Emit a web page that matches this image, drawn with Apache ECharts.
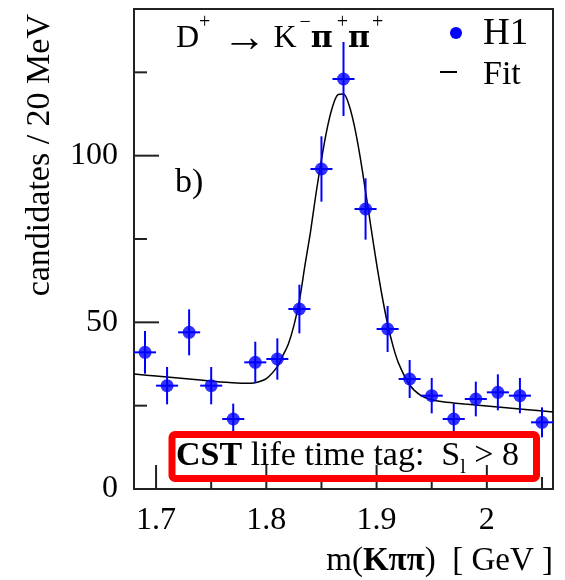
<!DOCTYPE html>
<html>

<head>
    <meta http-equiv="Content-Type" content="text/html; charset=utf-8" />
    <title>D+ mass peak</title>
    <style type="text/css">
    body,
    html {
        width: 100%;
        height: 100%;
        margin: 0;
        overflow: hidden;
        background-color: #fff;
    }

    #container {
        width: 565px;
        height: 580px;
    }
    </style>
</head>

<body>
    <div id="container"></div>
</body>
<script src="https://cdn.jsdelivr.net/npm/echarts@6/dist/echarts.min.js"></script>
<script>
// bin centres (GeV), 20 MeV bins
var massBins = [1.69, 1.71, 1.73, 1.75, 1.77, 1.79, 1.81, 1.83, 1.85, 1.87,
    1.89, 1.91, 1.93, 1.95, 1.97, 1.99, 2.01, 2.03, 2.05];
// H1 candidates per bin
var h1Counts = [41, 31, 47, 31, 21, 38, 39, 54, 96, 123,
    84, 48, 33, 28, 21, 27, 29, 28, 20];
// statistical errors
var h1Errors = [6.4, 5.6, 6.9, 5.6, 4.6, 6.2, 6.2, 7.3, 9.8, 11.1,
    9.2, 6.9, 5.7, 5.3, 4.6, 5.2, 5.4, 5.3, 4.5];

// fit curve
var fitMass = [1.68, 1.70, 1.72, 1.74, 1.76, 1.78, 1.79, 1.80, 1.81, 1.815,
    1.82, 1.825, 1.83, 1.835, 1.84, 1.845, 1.85, 1.855, 1.86, 1.865,
    1.87, 1.875, 1.88, 1.885, 1.89, 1.895, 1.90, 1.905, 1.91, 1.915,
    1.92, 1.93, 1.94, 1.95, 1.96, 1.98, 2.00, 2.02, 2.04, 2.06];
var fitValues = [34.5, 33.9, 33.3, 32.7, 32.1, 31.7, 31.9, 33.1, 36.7, 40.0,
    43.5, 49.0, 56.5, 67.0, 77.0, 88.5, 98.8, 107.9, 114.6, 118.3,
    118.5, 115.2, 108.7, 99.8, 89.3, 78.3, 67.6, 57.9, 49.5, 42.8,
    37.7, 31.2, 28.1, 26.8, 26.2, 25.5, 24.9, 24.3, 23.7, 23.1];

// axes
var xRange = [1.68, 2.06];
var yRange = [0, 144];
var xTickLabels = [1.7, 1.8, 1.9, 2];
var yTickLabels = [0, 50, 100];
var xMajorTicks = [1.7, 1.8, 1.9, 2.0];
var xMinorTicks = [1.75, 1.85, 1.95, 2.05];
var yMajorTicks = [50, 100];
var yMinorTicks = [25, 75, 125];

var halfBin = 0.01;
var serif = "'Liberation Serif', 'DejaVu Serif', serif";
var blue = '#0000ff';

var chartDom = document.getElementById('container');
var myChart = echarts.init(chartDom);

function pickLabel(list) {
    return function(v) {
        for (var i = 0; i < list.length; i++) {
            if (Math.abs(list[i] - v) < 1e-6) return String(list[i]);
        }
        return '';
    };
}

var xTickData = xMajorTicks.map(function(v) { return [v, 24]; })
    .concat(xMinorTicks.map(function(v) { return [v, 12]; }));
var yTickData = yMajorTicks.map(function(v) { return [25, v]; })
    .concat(yMinorTicks.map(function(v) { return [13, v]; }));

var option = {
    animation: false,
    grid: {
        left: 134,
        right: 12,
        top: 9,
        bottom: 91,
        show: true,
        borderColor: '#222',
        borderWidth: 2,
        backgroundColor: 'transparent'
    },
    xAxis: {
        type: 'value',
        min: xRange[0],
        max: xRange[1],
        splitNumber: 4,
        axisLine: { show: false },
        axisTick: { show: false },
        splitLine: { show: false },
        axisLabel: {
            formatter: pickLabel(xTickLabels),
            showMinLabel: false,
            showMaxLabel: false,
            margin: 16,
            fontSize: 32,
            lineHeight: 32,
            fontFamily: serif,
            color: '#000'
        }
    },
    yAxis: {
        type: 'value',
        min: yRange[0],
        max: yRange[1],
        interval: 50,
        axisLine: { show: false },
        axisTick: { show: false },
        splitLine: { show: false },
        axisLabel: {
            formatter: pickLabel(yTickLabels),
            showMaxLabel: false,
            margin: 16,
            fontSize: 32,
            fontFamily: serif,
            color: '#000'
        }
    },
    series: [
        {
            // ticks on the bottom axis, drawn inwards
            type: 'custom',
            silent: true,
            z: 5,
            data: xTickData,
            encode: { x: 0 },
            renderItem: function(params, api) {
                var p = api.coord([api.value(0), yRange[0]]);
                var len = api.value(1);
                return {
                    type: 'line',
                    shape: { x1: p[0], y1: p[1], x2: p[0], y2: p[1] - len },
                    style: { stroke: '#222', lineWidth: 2 }
                };
            }
        },
        {
            // ticks on the left axis
            type: 'custom',
            silent: true,
            z: 5,
            data: yTickData,
            encode: { y: 1 },
            renderItem: function(params, api) {
                var p = api.coord([xRange[0], api.value(1)]);
                var len = api.value(0);
                return {
                    type: 'line',
                    shape: { x1: p[0], y1: p[1], x2: p[0] + len, y2: p[1] },
                    style: { stroke: '#222', lineWidth: 2 }
                };
            }
        },
        {
            name: 'Fit',
            type: 'line',
            z: 2,
            data: fitMass.map(function(m, i) { return [m, fitValues[i]]; }),
            smooth: 0.3,
            symbol: 'none',
            lineStyle: { color: '#000', width: 1.5 }
        },
        {
            // error bars
            type: 'custom',
            z: 3,
            data: massBins.map(function(m, i) { return [m, h1Counts[i], h1Errors[i]]; }),
            encode: { x: 0, y: 1 },
            renderItem: function(params, api) {
                var x = api.value(0);
                var y = api.value(1);
                var e = api.value(2);
                var top = api.coord([x, y + e]);
                var bot = api.coord([x, y - e]);
                var lft = api.coord([x - halfBin, y]);
                var rgt = api.coord([x + halfBin, y]);
                var st = { stroke: blue, lineWidth: 2 };
                return {
                    type: 'group',
                    children: [
                        { type: 'line', shape: { x1: top[0], y1: top[1], x2: bot[0], y2: bot[1] }, style: st },
                        { type: 'line', shape: { x1: lft[0], y1: lft[1], x2: rgt[0], y2: rgt[1] }, style: st }
                    ]
                };
            }
        },
        {
            name: 'H1',
            type: 'scatter',
            z: 4,
            data: massBins.map(function(m, i) { return [m, h1Counts[i]]; }),
            symbol: 'circle',
            symbolSize: 13,
            itemStyle: { color: blue }
        }
    ],
    graphic: [
        {
            // decay channel
            type: 'text',
            x: 176,
            y: 13,
            z: 10,
            style: {
                text: '{n|D}{s|+}{a|\u2192}{n|K}{m|\u2212}{p|\u03c0}{t|+}{p|\u03c0}{u|+}',
                verticalAlign: 'top',
                rich: {
                    n: { fontSize: 32, lineHeight: 52, fontFamily: serif, color: '#000' },
                    a: { fontSize: 44, lineHeight: 52, fontFamily: serif, color: '#000', padding: [0, 7, 0, 12] },
                    p: { fontSize: 30, lineHeight: 52, fontFamily: "'DejaVu Serif'", fontWeight: 'bold', color: '#000' },
                    s: { fontSize: 20, lineHeight: 20, fontFamily: serif, color: '#000', verticalAlign: 'top' },
                    m: { fontSize: 20, lineHeight: 20, fontFamily: serif, color: '#000', verticalAlign: 'top', padding: [0, 0, 0, 3] },
                    t: { fontSize: 20, lineHeight: 20, fontFamily: serif, color: '#000', verticalAlign: 'top', padding: [0, 0, 0, 4] },
                    u: { fontSize: 20, lineHeight: 20, fontFamily: serif, color: '#000', verticalAlign: 'top', padding: [0, 0, 0, 2] }
                }
            }
        },
        {
            type: 'text',
            x: 175,
            y: 183,
            z: 10,
            style: {
                text: 'b)',
                font: '34px ' + serif,
                fill: '#000',
                verticalAlign: 'middle'
            }
        },
        // legend
        {
            type: 'circle',
            z: 10,
            shape: { cx: 456, cy: 33, r: 6 },
            style: { fill: blue }
        },
        {
            type: 'text',
            x: 483,
            y: 34,
            z: 10,
            style: { text: 'H1', font: '37px ' + serif, fill: '#000', verticalAlign: 'middle' }
        },
        {
            type: 'line',
            z: 10,
            shape: { x1: 440, y1: 72, x2: 457, y2: 72 },
            style: { stroke: '#000', lineWidth: 2 }
        },
        {
            type: 'text',
            x: 483,
            y: 75,
            z: 10,
            style: { text: 'Fit', font: '34px ' + serif, fill: '#000', verticalAlign: 'middle' }
        },
        // axis titles
        {
            type: 'text',
            x: 40,
            y: 14,
            rotation: Math.PI / 2,
            z: 10,
            style: {
                text: 'candidates / 20 MeV',
                font: '34px ' + serif,
                fill: '#000',
                align: 'right',
                verticalAlign: 'middle'
            }
        },
        {
            type: 'text',
            x: 553,
            y: 561,
            z: 10,
            style: {
                text: '{n|m(}{b|K\u03c0\u03c0}{n|)  [ GeV ]}',
                align: 'right',
                verticalAlign: 'middle',
                rich: {
                    n: { fontSize: 33, fontFamily: serif, color: '#000' },
                    b: { fontSize: 33, fontFamily: serif, fontWeight: 'bold', color: '#000' }
                }
            }
        },
        // tag box
        {
            type: 'rect',
            z: 20,
            shape: { x: 172, y: 434.5, width: 364.5, height: 44, r: 3 },
            style: { fill: 'none', stroke: '#ff0000', lineWidth: 7 }
        },
        {
            type: 'text',
            x: 176,
            y: 456,
            z: 21,
            style: {
                text: '{b|CST}{n| life time tag:  S}{s|l}{n| > 8}',
                verticalAlign: 'middle',
                rich: {
                    n: { fontSize: 34, lineHeight: 44, fontFamily: serif, color: '#000' },
                    b: { fontSize: 34, lineHeight: 44, fontFamily: serif, fontWeight: 'bold', color: '#000' },
                    s: { fontSize: 20, lineHeight: 20, fontFamily: serif, color: '#000', verticalAlign: 'bottom' }
                }
            }
        }
    ]
};

option && myChart.setOption(option);
</script>

</html>
